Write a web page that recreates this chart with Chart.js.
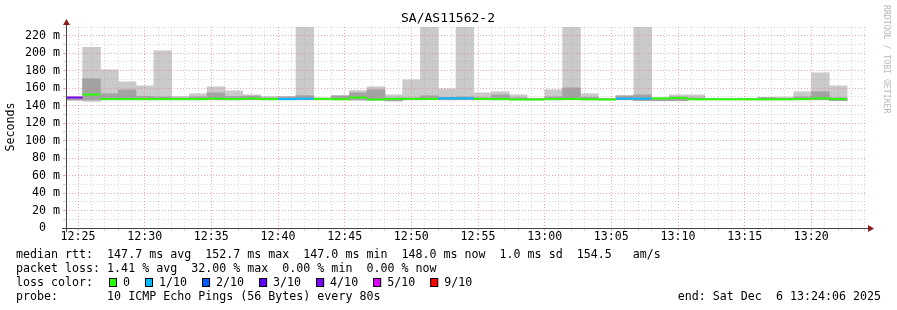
<!DOCTYPE html>
<html>
<head>
<meta charset="utf-8">
<script src="https://cdn.jsdelivr.net/npm/chart.js@4/dist/chart.umd.min.js"></script>
<style>
  body { margin: 0; background: #fff; }
  #chart { display: block; }
</style>
</head>
<body>
<canvas id="chart" width="897" height="310"></canvas>
<script>
// time window of the graph
const startTime = '12:24:06';
const endTime = '13:24:06';

// one smoke column every 80s (centre time)
const sampleTimes = [
  '12:24:41', '12:26:01', '12:27:21', '12:28:41', '12:30:01', '12:31:21', '12:32:41', '12:34:01',
  '12:35:21', '12:36:41', '12:38:01', '12:39:21', '12:40:41', '12:42:01', '12:43:21', '12:44:41',
  '12:46:01', '12:47:21', '12:48:41', '12:50:01', '12:51:21', '12:52:41', '12:54:01', '12:55:21',
  '12:56:41', '12:58:01', '12:59:21', '13:00:41', '13:02:01', '13:03:21', '13:04:41', '13:06:01',
  '13:07:21', '13:08:41', '13:10:01', '13:11:21', '13:12:41', '13:14:01', '13:15:21', '13:16:41',
  '13:18:01', '13:19:21', '13:20:41', '13:22:01'
];

// median rtt (ms)
const medianMs = [
  149.3, 152.7, 147.5, 147.5, 147.5, 147.5, 147.5, 147.5, 148.0, 147.5, 148.0, 147.5,
  147.5, 148.0, 147.7, 147.3, 149.3, 147.0, 147.7, 147.7, 147.7, 148.3, 148.3, 147.7,
  147.5, 147.0, 147.0, 147.5, 147.7, 147.3, 147.0, 148.0, 148.0, 148.3, 148.7, 147.3,
  147.3, 147.3, 147.3, 147.3, 147.3, 147.5, 148.3, 147.5
];

// lost pings out of 10
const lostPings = [
  4, 0, 0, 0, 0, 0, 0, 0, 0, 0, 0, 0, 1, 1, 0, 0, 0, 0, 0, 0, 0, 1,
  1, 0, 0, 0, 0, 0, 0, 0, 0, 1, 1, 0, 0, 0, 0, 0, 0, 0, 0, 0, 0, 0
];

// smoke: full range (light) and dense part (dark), ms
const smokeMin = [
  146.3, 144.7, 146.5, 146.5, 146.5, 146.5, 146.5, 146.5, 146.5, 146.5, 146.5, 146.5,
  146.5, 146.5, 146.5, 146.5, 146.3, 146.3, 145.5, 146.5, 146.5, 146.5, 146.5, 146.5,
  146.5, 146.5, 146.5, 146.5, 146.5, 146.5, 146.5, 146.5, 145.8, 145.6, 145.6, 146.5,
  146.5, 146.5, 146.5, 146.5, 146.5, 146.5, 146.5, 145.8
];
const smokeMax = [
  150.5, 206.6, 181.0, 167.3, 162.7, 202.8, 150.5, 153.6, 161.6, 157.0, 152.4, 150.5,
  150.5, 248.0, 149.0, 151.3, 157.3, 161.6, 152.4, 169.6, 256.0, 159.3, 241.0, 154.7,
  155.9, 152.4, 148.6, 158.2, 263.0, 153.6, 148.6, 151.3, 252.0, 149.0, 152.4, 152.4,
  148.6, 148.6, 148.6, 149.4, 149.8, 155.9, 177.6, 162.7
];
const smokeLo = [
  146.3, 146.5, 146.8, 146.8, 146.8, 146.8, 146.8, 146.8, 146.8, 146.8, 146.8, 146.8,
  146.8, 146.8, 146.8, 146.8, 146.5, 146.5, 145.5, 146.8, 146.8, 146.8, 146.8, 146.8,
  146.8, 146.8, 146.8, 146.8, 146.8, 146.8, 146.8, 146.8, 145.8, 145.6, 145.6, 146.8,
  146.8, 146.8, 146.8, 146.8, 146.8, 146.8, 146.8, 145.8
];
const smokeHi = [
  148.5, 170.8, 153.6, 158.0, 150.5, 150.0, 149.0, 150.0, 154.7, 150.5, 151.0, 149.0,
  150.0, 151.5, 148.5, 151.3, 154.7, 158.2, 149.0, 149.0, 151.3, 149.5, 150.0, 149.0,
  152.4, 149.0, 148.0, 150.0, 160.4, 149.5, 148.0, 151.3, 152.4, 148.5, 150.0, 149.0,
  148.0, 148.0, 148.0, 149.4, 148.5, 150.0, 155.9, 149.0
];

// axis labels
const xTickLabels = ['12:25', '12:30', '12:35', '12:40', '12:45', '12:50', '12:55', '13:00', '13:05', '13:10', '13:15', '13:20'];
const yTickLabels = ['0', '20 m', '40 m', '60 m', '80 m', '100 m', '120 m', '140 m', '160 m', '180 m', '200 m', '220 m'];

// loss legend
const lossLabels = ['0', '1/10', '2/10', '3/10', '4/10', '5/10', '9/10'];
const lossSteps = [0, 1, 2, 3, 4, 5, 9];
const lossColors = ['#26ff00', '#00b8ff', '#0059ff', '#5e00ff', '#7e00ff', '#dd00ff', '#ff0000'];

const statsLines = [
  'median rtt:  147.7 ms avg  152.7 ms max  147.0 ms min  148.0 ms now  1.0 ms sd  154.5   am/s',
  'packet loss: 1.41 % avg  32.00 % max  0.00 % min  0.00 % now'
];
const probeLine = 'probe:       10 ICMP Echo Pings (56 Bytes) every 80s';
const endLine = 'end: Sat Dec  6 13:24:06 2025';
const title = 'SA/AS11562-2';

const MONO = '"DejaVu Sans Mono", monospace';
const MAJOR_GRID = 'rgba(235, 110, 110, 0.6)';
const MINOR_GRID = 'rgba(150, 150, 150, 0.38)';

function secs(t) {
  const p = t.split(':').map(Number);
  return (p[0] - 12) * 3600 + p[1] * 60 + (p[2] || 0);
}

function loss_color(n) {
  let c = lossColors[0];
  for (let i = 0; i < lossSteps.length; i++) {
    if (n >= lossSteps[i]) c = lossColors[i];
  }
  return c;
}

const xMin = secs(startTime);
const xMax = secs(endTime);
const majorX = new Map(xTickLabels.map(l => [secs(l), l]));

const plotW = 800;
const colW = 80 * plotW / (xMax - xMin);

const decorations = {
  id: 'decorations',
  afterDraw(chart) {
    const ctx = chart.ctx;
    const a = chart.chartArea;
    ctx.save();

    // axes + arrows
    ctx.strokeStyle = '#444';
    ctx.lineWidth = 1;
    ctx.beginPath();
    ctx.moveTo(a.left - 4, a.bottom + 0.5);
    ctx.lineTo(a.right + 4, a.bottom + 0.5);
    ctx.moveTo(a.left + 0.5, a.bottom + 4);
    ctx.lineTo(a.left + 0.5, a.top - 4);
    ctx.stroke();
    ctx.fillStyle = '#8b1a1a';
    ctx.beginPath();
    ctx.moveTo(a.left + 0.5, a.top - 8);
    ctx.lineTo(a.left - 3, a.top - 2);
    ctx.lineTo(a.left + 4, a.top - 2);
    ctx.closePath();
    ctx.fill();
    ctx.beginPath();
    ctx.moveTo(a.right + 8, a.bottom + 0.5);
    ctx.lineTo(a.right + 2, a.bottom - 3);
    ctx.lineTo(a.right + 2, a.bottom + 4);
    ctx.closePath();
    ctx.fill();

    // title
    ctx.fillStyle = '#000';
    ctx.textBaseline = 'middle';
    ctx.textAlign = 'center';
    ctx.font = '13px ' + MONO;
    ctx.fillText(title, 448, 19);

    // y title
    ctx.save();
    ctx.translate(11, 127);
    ctx.rotate(-Math.PI / 2);
    ctx.font = '11.6px ' + MONO;
    ctx.fillText('Seconds', 0, 0);
    ctx.restore();

    // watermark
    ctx.save();
    ctx.translate(886, 5);
    ctx.rotate(Math.PI / 2);
    ctx.textAlign = 'left';
    ctx.fillStyle = '#b8b8b8';
    ctx.font = '8.2px ' + MONO;
    ctx.fillText('RRDTOOL / TOBI OETIKER', 0, 0);
    ctx.restore();

    // legend block
    ctx.font = '11.65px ' + MONO;
    ctx.textAlign = 'left';
    ctx.fillStyle = '#000';
    ctx.fillText(statsLines[0], 16, 254.5);
    ctx.fillText(statsLines[1], 16, 268.5);
    ctx.fillText('loss color:', 16, 282.5);
    let x = 109;
    for (let i = 0; i < lossLabels.length; i++) {
      ctx.fillStyle = lossColors[i];
      ctx.fillRect(x, 278, 8, 9);
      ctx.strokeStyle = '#000';
      ctx.strokeRect(x + 0.5, 278.5, 7, 8);
      ctx.fillStyle = '#000';
      ctx.fillText(lossLabels[i], x + 14, 282.5);
      x += 14 + ctx.measureText(lossLabels[i]).width + 15;
    }
    ctx.fillText(probeLine, 16, 296.5);
    ctx.textAlign = 'right';
    ctx.fillText(endLine, 881, 296.5);
    ctx.restore();
  }
};

const xs = sampleTimes.map(secs);

function grid_color_x(c) {
  if (!c.tick) return MINOR_GRID;
  return majorX.has(c.tick.value) ? MAJOR_GRID : MINOR_GRID;
}

function grid_color_y(c) {
  if (!c.tick) return MINOR_GRID;
  return c.tick.value % 20 === 0 ? MAJOR_GRID : MINOR_GRID;
}

const ctx = document.getElementById('chart').getContext('2d');
const chart = new Chart(ctx, {
  type: 'bar',
  data: {
    datasets: [
      {
        type: 'line',
        label: 'median rtt',
        data: xs.map((x, i) => ({x: x, y: medianMs[i]})),
        showLine: false,
        pointStyle: 'line',
        pointRadius: colW / 2,
        pointHoverRadius: colW / 2,
        pointBorderWidth: 2,
        pointBorderColor: lostPings.map(loss_color),
        clip: 0,
        order: 1
      },
      {
        label: 'dense smoke',
        data: xs.map((x, i) => ({x: x, y: [smokeLo[i], smokeHi[i]]})),
        backgroundColor: '#a3a3a3',
        barThickness: colW,
        grouped: false,
        borderWidth: 0,
        order: 2
      },
      {
        label: 'smoke',
        data: xs.map((x, i) => ({x: x, y: [smokeMin[i], smokeMax[i]]})),
        backgroundColor: '#cacaca',
        barThickness: colW,
        grouped: false,
        borderWidth: 0,
        order: 3
      }
    ]
  },
  options: {
    responsive: false,
    animation: false,
    devicePixelRatio: 1,
    layout: { autoPadding: false, padding: { left: 0, top: 27, right: 31, bottom: 0 } },
    plugins: { legend: { display: false }, tooltip: { enabled: false } },
    scales: {
      x: {
        type: 'linear',
        offset: false,
        min: xMin,
        max: xMax,
        afterFit: s => { s.height = 82; },
        afterBuildTicks: s => {
          const t = [];
          for (let v = Math.ceil(xMin / 60) * 60; v <= xMax; v += 60) t.push({value: v});
          s.ticks = t;
        },
        grid: { z: 1, offset: false, tickLength: 3, color: grid_color_x },
        border: { display: false, dash: [1, 2] },
        ticks: {
          autoSkip: false,
          maxRotation: 0,
          padding: 0,
          color: '#000',
          font: { family: MONO, size: 11.65, lineHeight: 1 },
          callback: v => majorX.get(v) || ''
        }
      },
      y: {
        min: 0,
        max: 230,
        afterFit: s => { s.width = 66; },
        afterBuildTicks: s => {
          const t = [];
          for (let v = 0; v <= 230; v += 10) t.push({value: v});
          s.ticks = t;
        },
        grid: { z: 1, tickLength: 3, color: grid_color_y },
        border: { display: false, dash: [1, 2] },
        ticks: {
          autoSkip: false,
          padding: 3,
          color: '#000',
          font: { family: MONO, size: 11.65, lineHeight: 1 },
          callback: v => {
            if (v % 20 !== 0) return '';
            const l = yTickLabels[v / 20];
            return v === 0 ? l + '  ' : l;
          }
        }
      }
    }
  },
  plugins: [decorations]
});
</script>
</body>
</html>
